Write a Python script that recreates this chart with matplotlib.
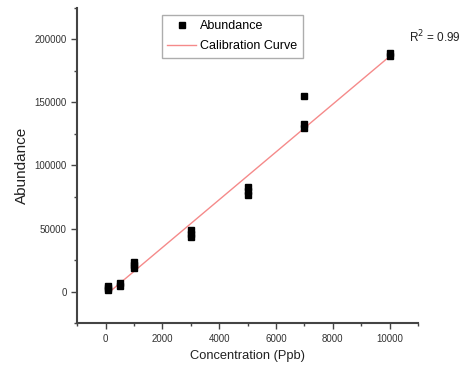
import matplotlib.pyplot as plt
from matplotlib.ticker import MultipleLocator

plt.rcParams['font.family'] = ['Liberation Sans', 'DejaVu Sans']

# replicate measurements (concentration in ppb, abundance)
conc = [100, 100, 100, 500, 500, 1000, 1000, 1000,
        3000, 3000, 3000, 5000, 5000, 5000,
        7000, 7000, 7000, 10000, 10000]
abundance = [1500, 3000, 4500, 4500, 6500, 18500, 21000, 23500,
             43000, 46000, 49000, 76500, 79500, 83000,
             130000, 133000, 155000, 186500, 189000]

# calibration line end points
calib_x = [100, 10000]
calib_y = [-1000, 186500]

fig = plt.figure(figsize=(4.65, 3.74), dpi=100)
ax = fig.add_axes([0.166, 0.136, 0.733, 0.843])

ax.plot(conc, abundance, 's', color='black', markersize=5, label='Abundance', zorder=3)
ax.plot(calib_x, calib_y, '-', color='#f58a8a', linewidth=1, label='Calibration Curve', zorder=2)

ax.set_xlim(-1000, 11000)
ax.set_ylim(-25000, 225000)
ax.xaxis.set_major_locator(MultipleLocator(2000))
ax.xaxis.set_minor_locator(MultipleLocator(1000))
ax.yaxis.set_major_locator(MultipleLocator(50000))
ax.yaxis.set_minor_locator(MultipleLocator(25000))

for s in ['top', 'right']:
    ax.spines[s].set_visible(False)
for s in ['left', 'bottom']:
    ax.spines[s].set_linewidth(1.5)
    ax.spines[s].set_color('#444444')

ax.tick_params(which='major', direction='out', length=4, width=1, colors='#444444',
               labelsize=7, labelcolor='#333333')
ax.tick_params(which='minor', direction='out', length=2.5, width=1, colors='#444444')

ax.set_xlabel('Concentration (Ppb)', fontsize=9.3, color='#222222', labelpad=5)
ax.set_ylabel('Abundance', fontsize=11, color='#222222')

leg = ax.legend(loc='upper left', bbox_to_anchor=(0.248, 0.978), fontsize=9,
                frameon=True, fancybox=False, shadow=False, edgecolor='#999999',
                handlelength=2.3, handletextpad=0.3, borderpad=0.45, labelspacing=0.6,
                borderaxespad=0)
leg.get_frame().set_linewidth(1)

fig.text(0.879, 0.886, 'R$^2$ = 0.99', fontsize=8.5, color='#222222')

fig.savefig('out.png', dpi=100)
